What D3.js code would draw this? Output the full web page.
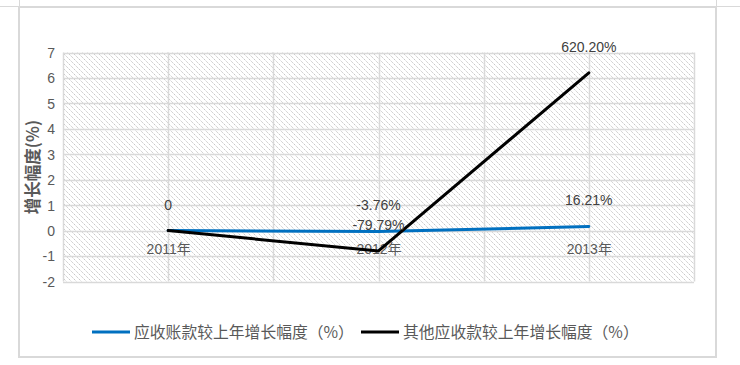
<!DOCTYPE html>
<html><head><meta charset="utf-8">
<script src="https://cdn.jsdelivr.net/npm/d3@7"></script>
<style>html,body{margin:0;padding:0;background:#fff;}</style>
</head><body>
<svg id="c" width="740" height="365"></svg>
<script>
const categories = ["2011年", "2012年", "2013年"];
const receivableGrowth = [0, -0.0376, 0.1621];
const otherReceivableGrowth = [0, -0.7979, 6.2020];
const receivableLabels = ["0", "-3.76%", "16.21%"];
const otherReceivableLabels = ["", "-79.79%", "620.20%"];
const yTicks = [-2, -1, 0, 1, 2, 3, 4, 5, 6, 7];
const seriesNames = ["应收账款较上年增长幅度（%）", "其他应收款较上年增长幅度（%）"];
const yTitle = "增长幅度(%)";

const svg = d3.select("#c");
const W = 740, H = 365;
const plot = {l: 63, r: 694, t: 52.5, b: 281.5};
const textFont = "'Liberation Sans','Noto Sans CJK SC',sans-serif";
const cjkFont = "'Noto Sans CJK SC',sans-serif";

// frame
svg.append("line").attr("x1",0).attr("x2",W).attr("y1",6.5).attr("y2",6.5).attr("stroke","#d9d9d9").attr("stroke-width",1);
[19.5, 716.5].forEach(x=>svg.append("line").attr("x1",x).attr("x2",x).attr("y1",0).attr("y2",7).attr("stroke","#d9d9d9"));
svg.append("rect").attr("x",19).attr("y",7).attr("width",697).attr("height",350)
  .attr("fill","#fff").attr("stroke","#d9d9d9").attr("stroke-width",2);

// hatch pattern
const defs = svg.append("defs");
const pat = defs.append("pattern").attr("id","hatch").attr("patternUnits","userSpaceOnUse")
  .attr("width",5).attr("height",5);
pat.append("path").attr("d","M-1,-1 L6,6 M-1,4 L1,6 M4,-1 L6,1").attr("stroke","#c4c4c4").attr("stroke-width",1).attr("stroke-dasharray","1.5,0.8");

const x = d3.scalePoint().domain(categories).range([plot.l, plot.r]).padding(0.5);
const y = d3.scaleLinear().domain([-2, 7]).range([plot.b, plot.t]);

svg.append("rect").attr("x",plot.l).attr("y",plot.t).attr("width",plot.r-plot.l).attr("height",plot.b-plot.t)
  .attr("fill","url(#hatch)");

// horizontal gridlines
const g = svg.append("g");
g.selectAll("line.h").data(yTicks).join("line")
  .attr("x1",plot.l).attr("x2",plot.r)
  .attr("y1",d=>Math.round(y(d))+0.5).attr("y2",d=>Math.round(y(d))+0.5)
  .attr("stroke","#d9d9d9").attr("stroke-width",1.5);
// vertical gridlines at categories and boundaries
const step = x.step();
const vx = [];
categories.forEach((c,i)=>{ if(i===0) vx.push(x(c)-step/2); vx.push(x(c)); vx.push(x(c)+step/2); });
g.selectAll("line.v").data(vx).join("line")
  .attr("x1",d=>Math.round(d)+0.5).attr("x2",d=>Math.round(d)+0.5)
  .attr("y1",plot.t).attr("y2",plot.b)
  .attr("stroke","#d9d9d9").attr("stroke-width",1.5);

// y axis labels
const yAxis = d3.axisLeft(y).tickValues(yTicks).tickSize(0).tickPadding(0).tickFormat(d=>String(d));
const ya = svg.append("g").attr("transform",`translate(${plot.l-8},0)`).call(yAxis);
ya.select(".domain").remove();
ya.selectAll("text").attr("font-family",textFont).attr("font-size",14).attr("fill","#595959").attr("dy","0.35em");

// x axis labels below zero line
const xAxis = d3.axisBottom(x).tickSize(0).tickPadding(0);
const xa = svg.append("g").attr("transform",`translate(0,${y(0)+13})`).call(xAxis);
xa.select(".domain").remove();
xa.selectAll("text").attr("font-family",textFont).attr("font-size",14).attr("fill","#595959");

// y title
svg.append("text").attr("transform",`translate(39,${(plot.t+plot.b)/2}) rotate(-90)`)
  .attr("text-anchor","middle").attr("font-family",cjkFont).attr("font-weight","bold")
  .attr("font-size",16.5).attr("fill","#595959").text(yTitle);

// lines
const line = d3.line().x((d,i)=>x(categories[i])).y(d=>y(d));
svg.append("path").datum(receivableGrowth).attr("d",line).attr("fill","none")
  .attr("stroke","#0070c0").attr("stroke-width",3).attr("stroke-linejoin","round").attr("stroke-linecap","round");
svg.append("path").datum(otherReceivableGrowth).attr("d",line).attr("fill","none")
  .attr("stroke","#000").attr("stroke-width",3).attr("stroke-linejoin","round").attr("stroke-linecap","round");

// data labels
function labels(vals, labs){
  svg.append("g").selectAll("text").data(vals).join("text")
    .attr("x",(d,i)=>x(categories[i])).attr("y",d=>y(d)-26)
    .attr("dy","0.35em").attr("text-anchor","middle")
    .attr("font-family",textFont).attr("font-size",14).attr("fill","#404040")
    .text((d,i)=>labs[i]);
}
labels(receivableGrowth, receivableLabels);
labels(otherReceivableGrowth, otherReceivableLabels);

// legend
const colors = ["#0070c0", "#000"];
const legX = [92, 361];
seriesNames.forEach((n,i)=>{
  svg.append("line").attr("x1",legX[i]).attr("x2",legX[i]+38).attr("y1",332).attr("y2",332)
    .attr("stroke",colors[i]).attr("stroke-width",3);
  svg.append("text").attr("x",legX[i]+42).attr("y",332).attr("dy","0.35em")
    .attr("font-family",cjkFont).attr("font-size",15.8).attr("fill","#595959").text(n);
});
</script>
</body></html>
